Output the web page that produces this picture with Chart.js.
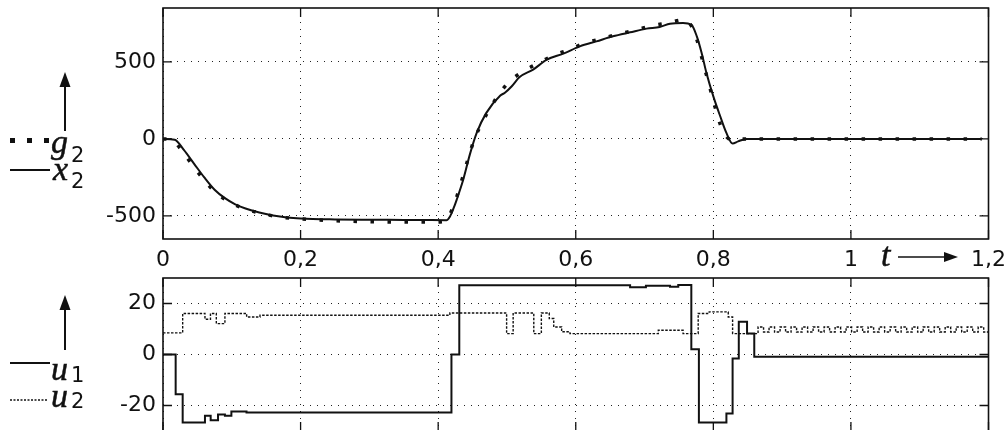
<!DOCTYPE html>
<html>
<head>
<meta charset="utf-8">
<script src="https://cdn.jsdelivr.net/npm/chart.js@4.4.1/dist/chart.umd.min.js"></script>
<style>
  html, body { margin: 0; padding: 0; background: #fff; width: 1006px; height: 430px; overflow: hidden; position: relative; }
  #top { position: absolute; left: 0; top: 0; }
  #bottom { position: absolute; left: 0; top: 250px; }
  #notes { position: absolute; left: 0; top: 0; }
</style>
</head>
<body>
<canvas id="bottom" width="1014" height="200"></canvas>
<canvas id="top" width="1014" height="275"></canvas>
<svg id="notes" width="1006" height="430">
  <g fill="#111" stroke="#111" stroke-width="0.5" font-family="Liberation Serif" font-style="italic" font-size="34">
    <text x="51" y="153">g</text>
    <text x="53" y="180">x</text>
    <text x="51" y="380">u</text>
    <text x="51" y="407">u</text>
    <text x="881" y="266">t</text>
  </g>
  <g fill="#111" font-family="DejaVu Sans" font-size="21">
    <text x="71" y="162">2</text>
    <text x="71" y="188">2</text>
    <text x="71" y="382">1</text>
    <text x="71" y="408">2</text>
  </g>
  <!-- upper panel: axis arrow + legend -->
  <line x1="65" y1="131" x2="65" y2="84" stroke="#111" stroke-width="2"/>
  <polygon points="65,72 59.5,87 70.5,87" fill="#111"/>
  <rect x="10" y="138" width="5" height="5" fill="#111"/>
  <rect x="27" y="138" width="5" height="5" fill="#111"/>
  <rect x="44" y="138" width="5" height="5" fill="#111"/>
  <line x1="10" y1="170" x2="50" y2="170" stroke="#111" stroke-width="2"/>

  <!-- lower panel: axis arrow + legend -->
  <line x1="65" y1="350" x2="65" y2="306" stroke="#111" stroke-width="2"/>
  <polygon points="65,295 59.5,310 70.5,310" fill="#111"/>
  <line x1="10" y1="363" x2="50" y2="363" stroke="#111" stroke-width="2"/>
  <line x1="10" y1="400" x2="48" y2="400" stroke="#111" stroke-width="1.4" stroke-dasharray="2 1.5"/>

  <!-- time axis arrow -->
  <line x1="898" y1="257" x2="946" y2="257" stroke="#111" stroke-width="1.6"/>
  <polygon points="958,257 944,252 944,262" fill="#111"/>
</svg>
<script>
// time ticks
const tTicks = [0, 0.2, 0.4, 0.6, 0.8, 1, 1.2];
const topYTicks = [-500, 0, 500];
const botYTicks = [-20, 0, 20];

// upper panel: x2 (solid) and g2 (dotted reference)
const tX2 = [0, 0.017, 0.03, 0.045, 0.06, 0.075, 0.09, 0.105, 0.12, 0.14, 0.16, 0.18, 0.2, 0.25, 0.3, 0.35, 0.38,
  0.412, 0.417, 0.422, 0.427, 0.4365, 0.446, 0.456, 0.47, 0.49, 0.497, 0.507, 0.518, 0.538, 0.558, 0.582, 0.606,
  0.63, 0.654, 0.679, 0.703, 0.722, 0.737, 0.756, 0.768, 0.776, 0.783, 0.79, 0.8, 0.81, 0.819, 0.828, 0.836, 0.848, 1.19];
const x2 = [0, -5, -70, -160, -250, -330, -385, -425, -452, -478, -497, -510, -517, -523, -525, -526, -527,
  -528, -505, -455, -394, -264, -102, 39, 169, 280, 300, 342, 400, 450, 515, 554, 601,
  633, 666, 692, 716, 727, 748, 753, 742, 666, 558, 428, 276, 147, 39, -30, -16, 0, 0];

const tG2 = [0, 0.0126, 0.0286, 0.044, 0.0596, 0.0756, 0.0964, 0.119, 0.142, 0.167, 0.191, 0.216, 0.241, 0.29, 0.34,
  0.39, 0.41, 0.423, 0.438, 0.445, 0.4525, 0.463, 0.475, 0.488, 0.504, 0.524, 0.546, 0.567, 0.5906, 0.614, 0.6376,
  0.662, 0.686, 0.71, 0.734, 0.758, 0.771, 0.779, 0.786, 0.794, 0.802, 0.81, 0.818, 0.826, 0.835, 1.19];
const g2 = [0, -6, -84, -178, -266, -344, -409, -454, -483, -506, -517, -524, -530, -537, -540,
  -540, -535, -426, -214, -106, -5, 99, 195, 288, 374, 439, 493, 541, 580, 623, 651,
  681, 705, 735, 753, 774, 709, 600, 480, 350, 215, 95, 20, -5, 0, 0];

// lower panel: u1 (solid steps) and u2 (fine dotted steps)
const tU1 = [0, 0.0184, 0.0286, 0.061, 0.0693, 0.08, 0.09, 0.0994, 0.1214, 0.4193, 0.4307, 0.679, 0.702, 0.737,
  0.749, 0.768, 0.779, 0.819, 0.828, 0.837, 0.849, 0.8595, 1.2];
const u1 = [0, -15.6, -26.7, -24, -25.8, -23.5, -24, -22.4, -22.7, 0, 27.2, 26.4, 27.0, 26.6,
  27.3, 2.1, -26.7, -23.1, -1.6, 12.8, 8.2, -0.9, -0.9];

const tU2 = [0, 0.0286, 0.061, 0.069, 0.0775, 0.09, 0.1216, 0.141, 0.417, 0.4995, 0.509, 0.539, 0.55, 0.5615,
  0.568, 0.5795, 0.5916, 0.72, 0.756, 0.778, 0.794, 0.8217, 0.828,
  0.865, 0.873, 0.881, 0.889, 0.897, 0.905, 0.913, 0.921, 0.929, 0.937, 0.945, 0.953, 0.961, 0.969,
  0.977, 0.985, 0.993, 1.001, 1.009, 1.017, 1.025, 1.033, 1.041, 1.049, 1.057, 1.065, 1.073, 1.081,
  1.089, 1.097, 1.105, 1.113, 1.121, 1.129, 1.137, 1.145, 1.153, 1.161, 1.169, 1.177, 1.185, 1.193, 1.2];
const u2 = [8.5, 16.1, 13.8, 16.1, 12.1, 16.1, 14.7, 15.4, 16.3, 8.2, 16.3, 8.2, 16.3, 14.1,
  10.8, 8.9, 8.2, 9.5, 8.2, 16.1, 16.7, 14.7, 8.2,
  10.8, 8.8, 10.8, 8.8, 10.8, 8.8, 10.8, 8.8, 10.8, 8.8, 10.8, 8.8, 10.8, 8.8,
  10.8, 8.8, 10.8, 8.8, 10.8, 8.8, 10.8, 8.8, 10.8, 8.8, 10.8, 8.8, 10.8, 8.8,
  10.8, 8.8, 10.8, 8.8, 10.8, 8.8, 10.8, 8.8, 10.8, 8.8, 10.8, 8.8, 10.8, 8.8, 8.8];

const pts = (ts, vs) => ts.map((t, i) => ({ x: t, y: vs[i] }));
const fmt = v => String(+v.toFixed(1)).replace('.', ',');
const tickFont = { family: 'DejaVu Sans', size: 22 };

// box + inward ticks like the original plot
const frame = {
  id: 'frame',
  afterDraw(chart) {
    const { ctx, chartArea: a, scales } = chart;
    ctx.save();
    ctx.strokeStyle = '#111';
    ctx.lineWidth = 1.3;
    ctx.beginPath();
    scales.x.ticks.forEach(tk => {
      const px = scales.x.getPixelForValue(tk.value);
      ctx.moveTo(px, a.bottom); ctx.lineTo(px, a.bottom - 9);
      ctx.moveTo(px, a.top); ctx.lineTo(px, a.top + 9);
    });
    scales.y.ticks.forEach(tk => {
      const py = scales.y.getPixelForValue(tk.value);
      ctx.moveTo(a.left, py); ctx.lineTo(a.left + 9, py);
      ctx.moveTo(a.right, py); ctx.lineTo(a.right - 9, py);
    });
    ctx.stroke();
    ctx.lineWidth = 1.6;
    ctx.strokeRect(a.left, a.top, a.right - a.left, a.bottom - a.top);
    ctx.restore();
  }
};

function xScale(labelColor, height) {
  return {
    type: 'linear', min: 0, max: 1.2,
    afterBuildTicks: s => { s.ticks = tTicks.map(v => ({ value: v })); },
    afterFit: s => { s.height = height; },
    ticks: { callback: fmt, font: tickFont, color: labelColor, padding: 8, maxRotation: 0 },
    grid: { color: '#222', lineWidth: 1, drawTicks: false },
    border: { display: false, dash: [1, 6] }
  };
}

function yScale(min, max, ticks) {
  return {
    min: min, max: max,
    afterBuildTicks: s => { s.ticks = ticks.map(v => ({ value: v })); },
    afterFit: s => { s.width = 163; s.paddingTop = 0; s.paddingBottom = 0; },
    ticks: { font: tickFont, color: '#111', padding: 7 },
    grid: { color: '#222', lineWidth: 1, drawTicks: false },
    border: { display: false, dash: [1, 6] }
  };
}

const common = {
  responsive: false,
  animation: false,
  events: [],
  plugins: { legend: { display: false }, tooltip: { enabled: false } }
};

new Chart(document.getElementById('top'), {
  type: 'line',
  data: {
    datasets: [
      { label: 'g2', data: pts(tG2, g2), borderColor: '#111', borderWidth: 3.5, borderDash: [3.5, 13.5],
        borderCapStyle: 'butt', pointRadius: 0, cubicInterpolationMode: 'monotone' },
      { label: 'x2', data: pts(tX2, x2), borderColor: '#111', borderWidth: 2, pointRadius: 0,
        cubicInterpolationMode: 'monotone' }
    ]
  },
  options: Object.assign({}, common, {
    layout: { padding: { top: 8, right: 0, left: 0, bottom: 0 } },
    scales: { x: xScale('#111', 36), y: yScale(-650, 850, topYTicks) }
  }),
  plugins: [frame]
});

new Chart(document.getElementById('bottom'), {
  type: 'line',
  data: {
    datasets: [
      { label: 'u1', data: pts(tU1, u1), borderColor: '#111', borderWidth: 2, pointRadius: 0, stepped: 'before' },
      { label: 'u2', data: pts(tU2, u2), borderColor: '#111', borderWidth: 1.4, borderDash: [2.5, 1.5],
        pointRadius: 0, stepped: 'before' }
    ]
  },
  options: Object.assign({}, common, {
    layout: { padding: { top: 28, right: 0, left: 0, bottom: 0 } },
    scales: { x: xScale('rgba(0,0,0,0)', 19), y: yScale(-30, 30, botYTicks) }
  }),
  plugins: [frame]
});
</script>
</body>
</html>
